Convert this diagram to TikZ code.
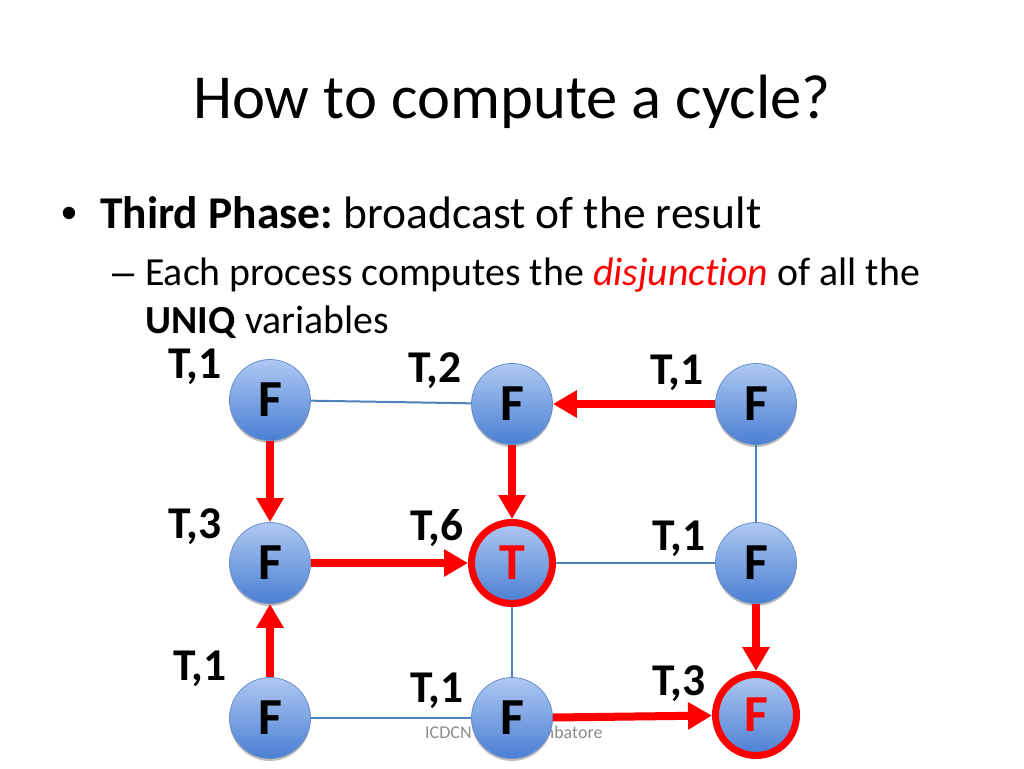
\documentclass[tikz,border=0pt]{standalone}
\usepackage{fontspec}
\setmainfont{Carlito}[Ligatures={TeX,NoCommon}]
\newfontfamily\arialf{Liberation Sans}
\usetikzlibrary{arrows.meta,shadows}
\definecolor{nodetop}{HTML}{AEC8F2}
\definecolor{nodebot}{HTML}{4A7FD3}
\definecolor{nodeedge}{HTML}{6A8FC8}
\definecolor{linkblue}{HTML}{4F81BD}
\definecolor{footgray}{HTML}{8C8C8C}
\tikzset{
  proc/.style={circle, minimum size=81pt, inner sep=0pt, shading=axis,
    top color=nodetop, bottom color=nodebot, draw=nodeedge, line width=0.8pt,
    font=\bfseries\fontsize{52}{52}\selectfont, text=black,
    drop shadow={shadow xshift=0pt, shadow yshift=-2.5pt, opacity=0.25, fill=black}},
  hot/.style={proc, draw=red, line width=7pt, text=red},
  link/.style={draw=linkblue, line width=2pt},
  flow/.style={draw=red, line width=8pt, -{Triangle[length=24pt,width=26pt]}},
  lab/.style={anchor=base west, inner sep=0pt, font=\bfseries\fontsize{45.5}{45.5}\selectfont},
  txt/.style={anchor=base west, inner sep=0pt}
}
\begin{document}
\frenchspacing
\begin{tikzpicture}[x=1pt,y=-1pt]
\useasboundingbox[fill=white] (0,0) rectangle (1024,768);
% title and text
\node[anchor=base, inner sep=0pt, font=\fontsize{62.6}{70}\selectfont] (title) at (512,118) {How to compute a cycle?};
\node[txt, font=\arialf\fontsize{45.5}{50}\selectfont] (bul) at (61,228) {•};
\node[txt, font=\fontsize{45.5}{50}\selectfont] (l1) at (100,228) {\textbf{Third Phase:} broadcast of the result};
\node[txt, font=\arialf\fontsize{39.8}{45}\selectfont] (dash) at (112,285) {–};
\node[txt, font=\fontsize{39.8}{45}\selectfont] (l2) at (145,285) {Each process computes the \textcolor{red}{\itshape disjunction} of all the};
\node[txt, font=\fontsize{39.8}{45}\selectfont] (l3) at (145,333) {\textbf{UNIQ} variables};
% footer
\node[anchor=base west, inner sep=0pt, text=footgray, font=\fontsize{18}{20}\selectfont] (foot) at (425,738) {ICDCN'2014 Coimbatore};
% nodes
\node[proc] (n11) at (270,400) {F};
\node[proc] (n12) at (512,404) {F};
\node[proc] (n13) at (756,404) {F};
\node[proc] (n21) at (270,563) {F};
\node[hot]  (n22) at (512,563) {T};
\node[proc] (n23) at (756,563) {F};
\node[proc] (n31) at (270,718) {F};
\node[proc] (n32) at (512,718) {F};
\node[hot]  (n33) at (756,715) {F};
% plain links
\draw[link] (n11) -- (n12);
\draw[link] (n13) -- (n23);
\draw[link] (n22) -- (n23);
\draw[link] (n22) -- (n32);
\draw[link] (n31) -- (n32);
% red flows
\draw[flow] (n13) -- (n12);
\draw[flow] (n11) -- (n21);
\draw[flow] (n12) -- (n22);
\draw[flow] (n21) -- (n22);
\draw[flow] (n31) -- (n21);
\draw[flow] (n23) -- (n33);
\draw[flow] (n32) -- (n33);
% labels
\node[lab] (t11) at (168,378) {T,1};
\node[lab] (t12) at (408,382) {T,2};
\node[lab] (t13) at (650,384) {T,1};
\node[lab] (t21) at (168,538) {T,3};
\node[lab] (t22) at (410,540) {T,6};
\node[lab] (t23) at (652,550) {T,1};
\node[lab] (t31) at (173,680) {T,1};
\node[lab] (t32) at (410,702) {T,1};
\node[lab] (t33) at (652,695) {T,3};
\end{tikzpicture}
\end{document}
